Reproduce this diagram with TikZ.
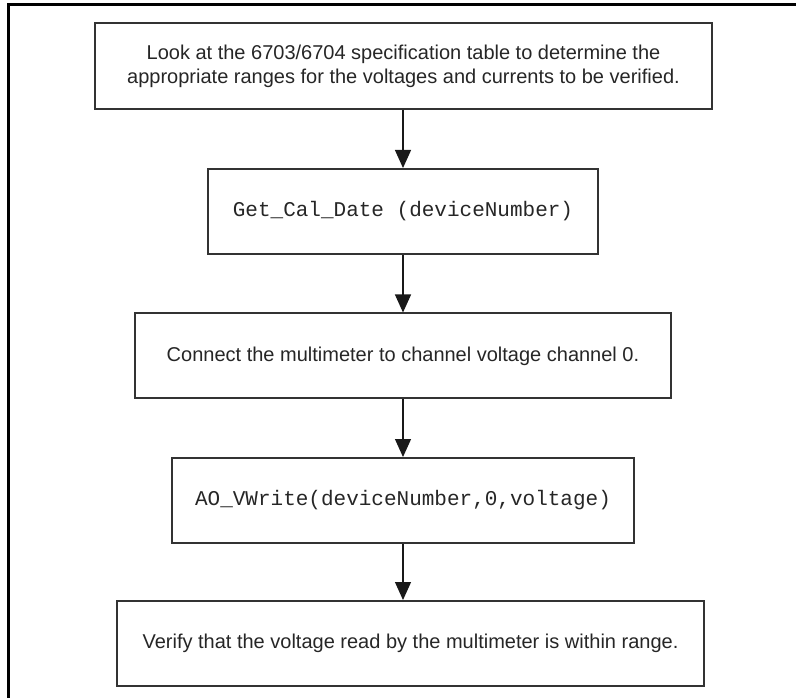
\documentclass[tikz,border=0pt]{standalone}
\usepackage{fontspec}
\setmainfont{Liberation Sans}
\setmonofont{Liberation Mono}
\usetikzlibrary{arrows.meta}

\tikzset{
  stepbox/.style={draw=black!80, line width=1.5pt, minimum height=63.75pt, inner sep=0pt,
    align=center, text=black!85, font=\fontsize{15}{18}\selectfont},
  codebox/.style={stepbox, font=\fontsize{15.75}{18}\selectfont\ttfamily},
  flowarrow/.style={-{Triangle[width=12pt,length=13.5pt]}, line width=0.9pt, black!90}
}

\begin{document}
\begin{tikzpicture}[x=0.75pt,y=0.75pt,yscale=-1,xscale=1]
    \useasboundingbox (0,0) rectangle (796,698);

    %Frame (top and left only)
    \draw [line width=2.25pt] (8.5,698) -- (8.5,5) -- (796,5) ;

    % Step boxes
    \node [stepbox, minimum width=462.75pt, minimum height=64.5pt] (spec) at (403.5,66)
      {Look at the 6703/6704 specification table to determine the\\appropriate ranges for the voltages and currents to be verified.};
    \node [codebox, minimum width=292.5pt] (caldate) at (403,211.5) {Get\_Cal\_Date (deviceNumber)};
    \node [stepbox, minimum width=402pt] (connect) at (403,356) {Connect the multimeter to channel voltage channel 0.};
    \node [codebox, minimum width=346.5pt] (vwrite) at (403,500.5) {AO\_VWrite(deviceNumber,0,voltage)};
    \node [stepbox, minimum width=440.25pt] (verify) at (410.5,643.5) {Verify that the voltage read by the multimeter is within range.};

    % Arrows
    \draw [flowarrow] (spec.south -| caldate) -- (caldate) ;
    \draw [flowarrow] (caldate) -- (connect) ;
    \draw [flowarrow] (connect) -- (vwrite) ;
    \draw [flowarrow] (vwrite) -- (vwrite |- verify.north) ;

\end{tikzpicture}
\end{document}
